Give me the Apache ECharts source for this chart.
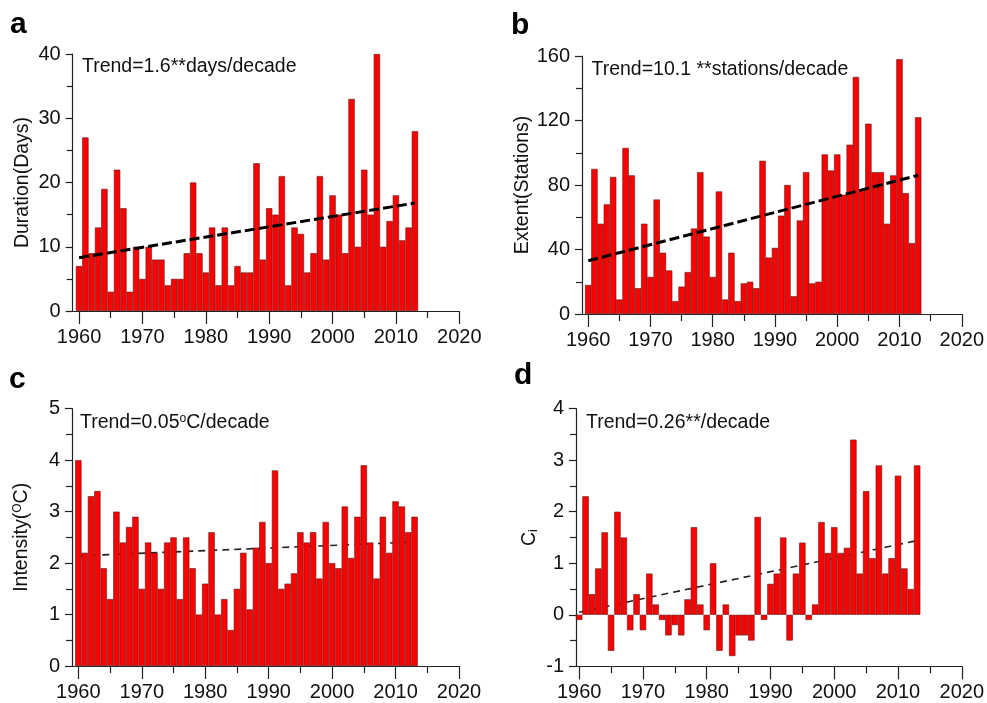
<!DOCTYPE html>
<html><head><meta charset="utf-8">
<script src="https://cdn.jsdelivr.net/npm/echarts@6/dist/echarts.min.js"></script>
<style>html,body{margin:0;padding:0;background:#fff}#c{width:987px;height:703px}</style>
</head><body><div id="c"></div>
<script>
const years = [1960,1961,1962,1963,1964,1965,1966,1967,1968,1969,
  1970,1971,1972,1973,1974,1975,1976,1977,1978,1979,
  1980,1981,1982,1983,1984,1985,1986,1987,1988,1989,
  1990,1991,1992,1993,1994,1995,1996,1997,1998,1999,
  2000,2001,2002,2003,2004,2005,2006,2007,2008,2009,
  2010,2011,2012,2013];
const duration = [7,27,9,13,19,3,22,16,3,10, 5,10,8,8,4,5,5,9,20,9, 6,13,4,13,4,7,6,6,23,8,
  16,15,21,4,13,12,6,9,21,8, 18,15,9,33,10,22,15,40,10,14, 18,11,13,28];
const extent = [18,90,56,68,85,9,103,86,16,56, 23,71,38,27,8,17,26,53,88,48, 23,76,9,38,8,19,20,16,95,35,
  41,61,80,11,58,88,19,20,99,89, 99,74,105,147,77,118,88,88,56,86, 158,75,44,122];
const intensity = [4.0,2.2,3.3,3.4,1.9,1.3,3.0,2.4,2.7,2.9, 1.5,2.4,2.2,1.5,2.4,2.5,1.3,2.5,1.9,1.0,
  1.6,2.6,1.0,1.3,0.7,1.5,2.2,1.1,2.3,2.8, 2.0,3.8,1.5,1.6,1.8,2.6,2.4,2.6,1.7,2.8,
  2.0,1.9,3.1,2.1,2.9,3.9,2.4,1.7,2.9,2.2, 3.2,3.1,2.6,2.9];
const ci = [-0.1,2.3,0.4,0.9,1.6,-0.7,2.0,1.5,-0.3,0.4, -0.3,0.8,0.2,-0.1,-0.4,-0.2,-0.4,0.3,1.7,0.2,
  -0.3,1.0,-0.7,0.2,-0.8,-0.4,-0.4,-0.5,1.9,-0.1, 0.6,0.8,1.5,-0.5,0.8,1.4,-0.1,0.2,1.8,1.2,
  1.7,1.2,1.3,3.4,0.8,2.4,1.1,2.9,0.8,1.1, 2.7,0.9,0.5,2.9];
const trendA = [[1960, 8.3],[2013, 16.8]];
const trendB = [[1960, 33],[2013, 86]];
const trendC = [[1960, 2.14],[2013, 2.41]];
const trendD = [[1960, 0.05],[2013, 1.44]];
const xMajorTicks = [1960,1970,1980,1990,2000,2010,2020];
const xMinorTicks = [1965,1975,1985,1995,2005,2015];
const trendTexts = ['Trend=1.6**days/decade','Trend=10.1 **stations/decade','Trend=0.05{sup|o}C/decade','Trend=0.26**/decade'];
const axisNames = ['Duration(Days)','Extent(Stations)','Intensity({sup|O}C)','C{sub|i}'];
const panelLetters = ['a','b','c','d'];

const FONT = '"Liberation Sans", Arial, sans-serif';
const panels = [
  {grid:{left:72.7, top:54, width:386.6, height:257}, xmin:1959, ymin:0, ymax:40, yint:10, vals:duration, trend:trendA, thick:true,
   letter:[10,24.5], text:[82,66.5], gap:40},
  {grid:{left:582, top:56, width:387.3, height:258}, xmin:1959, ymin:0, ymax:160, yint:40, vals:extent, trend:trendB, thick:true,
   letter:[511,25.5], text:[591.5,69.2], gap:40},
  {grid:{left:72, top:408.7, width:387, height:257.3}, xmin:1959, ymin:0, ymax:5, yint:1, vals:intensity, trend:trendC, thick:false,
   letter:[9,379.5], text:[80,422.2], gap:40},
  {grid:{left:576, top:408.7, width:387, height:257.6}, xmin:1959.5, ymin:-1, ymax:4, yint:1, vals:ci, trend:trendD, thick:false,
   letter:[514,375.5], text:[586,422.2], gap:36}
];
const XMAX = 2020;
const axisColor = '#222';
const grids = [], xAxes = [], yAxes = [], series = [], graphics = [];
panels.forEach((p, i) => {
  grids.push(Object.assign({containLabel:false}, p.grid));
  xAxes.push({
    type:'value', gridIndex:i, min:p.xmin, max:XMAX, position:'bottom',
    axisLine:{show:true, onZero:false, lineStyle:{color:axisColor, width:1.2}},
    axisTick:{show:true, customValues:xMajorTicks, length:13, lineStyle:{color:axisColor, width:1.2}},
    axisLabel:{show:true, customValues:xMajorTicks, margin:16, fontSize:20, fontFamily:FONT, color:'#111',
      formatter:(v) => String(Math.round(v))},
    splitLine:{show:false}
  });
  xAxes.push({
    type:'value', gridIndex:i, min:p.xmin, max:XMAX, position:'bottom',
    axisLine:{show:false, onZero:false},
    axisTick:{show:true, customValues:xMinorTicks, length:7, lineStyle:{color:axisColor, width:1.2}},
    axisLabel:{show:false},
    splitLine:{show:false}
  });
  yAxes.push({
    type:'value', gridIndex:i, min:p.ymin, max:p.ymax, interval:p.yint,
    name:axisNames[i], nameLocation:'middle', nameGap:p.gap,
    nameTextStyle:{fontSize:19.5, fontFamily:FONT, color:'#111',
      rich:{sup:{fontSize:12, fontFamily:FONT, color:'#111', verticalAlign:'top'},
            sub:{fontSize:13, fontFamily:FONT, color:'#111', verticalAlign:'bottom'}}},
    axisLine:{show:true, onZero:false, lineStyle:{color:axisColor, width:1.2}},
    axisTick:{show:true, length:7, lineStyle:{color:axisColor, width:1.2}},
    minorTick:{show:true, splitNumber:2, length:6, lineStyle:{color:axisColor, width:1.2}},
    axisLabel:{margin:12, fontSize:20, fontFamily:FONT, color:'#111'},
    splitLine:{show:false}
  });
  const bw = p.grid.width / (XMAX - p.xmin);
  series.push({
    type:'bar', xAxisIndex:2*i, yAxisIndex:i, barWidth:bw,
    data: years.map((y,k) => [y, p.vals[k]]),
    itemStyle:{color:'#ff0000', borderColor:'#5a1a1a', borderWidth:0.6},
    z:2, silent:true
  });
  series.push({
    type:'line', xAxisIndex:2*i, yAxisIndex:i, data:p.trend, symbol:'none',
    lineStyle: p.thick ? {color:'#000', width:3, type:[10,4]} : {color:'#222', width:1.6, type:[7,5]},
    z: p.thick ? 3 : 1, silent:true
  });
  graphics.push({type:'text', x:p.letter[0], y:p.letter[1],
    style:{text:panelLetters[i], fontSize:30, fontWeight:'bold', fontFamily:FONT, fill:'#000', align:'left', verticalAlign:'middle'}});
  graphics.push({type:'text', x:p.text[0], y:p.text[1],
    style:{text:trendTexts[i], fontSize:19.5, fontFamily:FONT, fill:'#111', align:'left', verticalAlign:'middle',
      rich:{sup:{fontSize:12, fontFamily:FONT, fill:'#111', verticalAlign:'top'}}}});
});

const chart = echarts.init(document.getElementById('c'), null, {renderer:'canvas'});
chart.setOption({
  animation:false,
  backgroundColor:'#fff',
  grid:grids, xAxis:xAxes, yAxis:yAxes, series:series, graphic:graphics
});
</script>
</body></html>
